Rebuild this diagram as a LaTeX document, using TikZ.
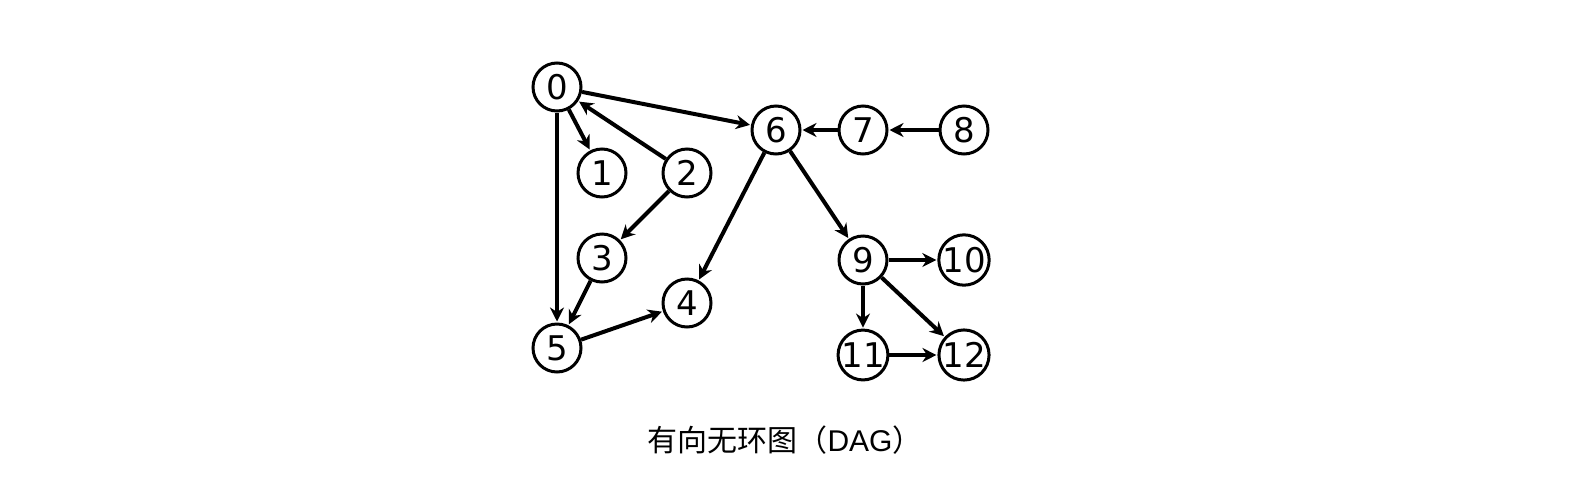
\documentclass[tikz,border=0pt]{standalone}
\usepackage{fontspec}
\setmainfont{DejaVu Sans}
\newfontfamily\cjk{Noto Sans CJK SC}
\newfontfamily\latincap{Liberation Sans}
\usetikzlibrary{arrows.meta}

\begin{document}
\begin{tikzpicture}[x=0.5pt,y=-0.5pt,
	vertex/.style={draw, circle, line width=1.5pt, minimum size=24pt, inner sep=0pt, font=\fontsize{17}{18}\selectfont},
	dagarrow/.style={-{Stealth[length=7pt,width=7pt]}, line width=2pt, shorten >=0.5pt}]
	\useasboundingbox (0,0) rectangle (1574,488);
	\node[vertex] (v0) at (557,87) {0};
	\node[vertex] (v1) at (602,173) {1};
	\node[vertex] (v2) at (687,173) {2};
	\node[vertex] (v3) at (602,258) {3};
	\node[vertex] (v4) at (687,303) {4};
	\node[vertex] (v5) at (557,348) {5};
	\node[vertex] (v6) at (776,130) {6};
	\node[vertex] (v7) at (863,130) {7};
	\node[vertex] (v8) at (964,130) {8};
	\node[vertex] (v9) at (863,260) {9};
	\node[vertex] (v10) at (964,260) {10};
	\node[vertex] (v11) at (863,355) {11};
	\node[vertex] (v12) at (964,355) {12};
	\draw[dagarrow] (v0) -- (v1);
	\draw[dagarrow] (v2) -- (v0);
	\draw[dagarrow] (v0) -- (v6);
	\draw[dagarrow] (v0) -- (v5);
	\draw[dagarrow] (v2) -- (v3);
	\draw[dagarrow] (v3) -- (v5);
	\draw[dagarrow] (v5) -- (v4);
	\draw[dagarrow] (v6) -- (v4);
	\draw[dagarrow] (v7) -- (v6);
	\draw[dagarrow] (v8) -- (v7);
	\draw[dagarrow] (v6) -- (v9);
	\draw[dagarrow] (v9) -- (v10);
	\draw[dagarrow] (v9) -- (v11);
	\draw[dagarrow] (v9) -- (v12);
	\draw[dagarrow] (v11) -- (v12);
	\node[font=\cjk\fontsize{15}{16}\selectfont] (caption) at (785,440) {有向无环图（{\latincap DAG}）};
\end{tikzpicture}
\end{document}
